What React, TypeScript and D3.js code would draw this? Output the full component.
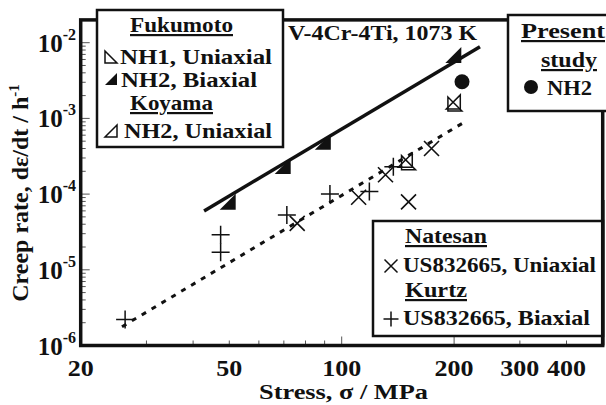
import React from "react";
import * as d3 from "d3";

// Fukumoto NH1 uniaxial (open triangle, right angle bottom-left)
const fukumotoNH1 = [
  { stress: 151, rate: 2.6e-4 },
  { stress: 201, rate: 1.55e-3 },
];
// Fukumoto NH2 biaxial (filled triangle)
const fukumotoNH2 = [
  { stress: 49.5, rate: 7.9e-5 },
  { stress: 69.5, rate: 2.35e-4 },
  { stress: 89, rate: 4.9e-4 },
  { stress: 199, rate: 6.9e-3 },
];
// Koyama NH2 uniaxial (open triangle, right angle bottom-right)
const koyamaNH2 = [
  { stress: 148, rate: 2.8e-4 },
  { stress: 199, rate: 1.65e-3 },
];
// Present study NH2
const presentNH2 = [{ stress: 210, rate: 3.05e-3 }];
// Natesan US832665 uniaxial
const natesan = [
  { stress: 76, rate: 4.1e-5 },
  { stress: 111, rate: 9.1e-5 },
  { stress: 131, rate: 1.8e-4 },
  { stress: 151, rate: 7.9e-5 },
  { stress: 174, rate: 4.0e-4 },
];
// Kurtz US832665 biaxial
const kurtz = [
  { stress: 26.3, rate: 2.2e-6 },
  { stress: 47.4, rate: 2.9e-5 },
  { stress: 47.4, rate: 1.7e-5 },
  { stress: 71.3, rate: 5.3e-5 },
  { stress: 93, rate: 1.0e-4 },
  { stress: 118.6, rate: 1.08e-4 },
  { stress: 137.5, rate: 2.3e-4 },
];
// fitted lines
const biaxialFit = [
  { stress: 42.8, rate: 6.0e-5 },
  { stress: 234.6, rate: 8.86e-3 },
];
const uniaxialFit = [
  { stress: 25.8, rate: 1.77e-6 },
  { stress: 214, rate: 9.04e-4 },
];

const xMajor = [20, 50, 100, 200, 300, 400];
const xMinor = [30, 40, 50, 60, 70, 80, 90, 300, 400];
const yMajor = [1e-6, 1e-5, 1e-4, 1e-3, 1e-2];

const font = "'Liberation Serif', 'Times New Roman', serif";

export default function App() {
  const left = 80.7,
    right = 602.7,
    top = 19.9,
    bottom = 345.5;

  const x = d3.scaleLog().domain([20, 500]).range([left, right]);
  const y = d3.scaleLog().domain([1e-6, 0.02]).range([bottom, top]);

  const line = d3
    .line<{ stress: number; rate: number }>()
    .x((d) => x(d.stress))
    .y((d) => y(d.rate));

  // minor ticks on the y axis (2..9 of every decade)
  const yMinor: number[] = [];
  yMajor.forEach((m) => {
    for (let k = 2; k <= 9; k++) if (m * k < 0.02) yMinor.push(m * k);
  });

  const triBL = (cx: number, cy: number, s: number) =>
    `M${cx - s},${cy - s}L${cx - s},${cy + s}L${cx + s},${cy + s}Z`;
  const triBR = (cx: number, cy: number, s: number) =>
    `M${cx + s},${cy - s}L${cx + s},${cy + s}L${cx - s},${cy + s}Z`;
  const cross = (cx: number, cy: number, s: number) =>
    `M${cx - s},${cy - s}L${cx + s},${cy + s}M${cx - s},${cy + s}L${cx + s},${cy - s}`;
  const plus = (cx: number, cy: number, s: number) =>
    `M${cx - s},${cy}L${cx + s},${cy}M${cx},${cy - s}L${cx},${cy + s}`;

  const underline = { textDecoration: "underline" };
  const fit = (w: number) => ({ textLength: w, lengthAdjust: "spacingAndGlyphs" });

  return (
    <svg
      width={606}
      height={405}
      style={{ position: "absolute", left: 0, top: 0, background: "#fff" }}
      fontFamily={font}
      fontWeight="bold"
      fontSize={22}
      fill="#111"
    >
      {/* minor/major ticks */}
      {yMinor.map((v, i) => (
        <line key={"ym" + i} x1={left} x2={left + 5} y1={y(v)} y2={y(v)} stroke="#555" strokeWidth={1} />
      ))}
      {yMajor.map((v, i) => (
        <line key={"yM" + i} x1={left} x2={left + 9} y1={y(v)} y2={y(v)} stroke="#555" strokeWidth={1} />
      ))}
      {xMinor.map((v, i) => (
        <line key={"xm" + i} x1={x(v)} x2={x(v)} y1={bottom} y2={bottom - 5} stroke="#555" strokeWidth={1} />
      ))}
      {[100, 200].map((v, i) => (
        <line key={"xM" + i} x1={x(v)} x2={x(v)} y1={bottom} y2={bottom - 9} stroke="#555" strokeWidth={1} />
      ))}

      {/* frame */}
      <rect x={left} y={top} width={right - left} height={bottom - top} fill="none" stroke="#111" strokeWidth={3.5} />

      {/* fit lines */}
      <path d={line(biaxialFit) || ""} fill="none" stroke="#111" strokeWidth={3.5} />
      <path
        d={line(uniaxialFit) || ""}
        fill="none"
        stroke="#111"
        strokeWidth={3}
        strokeDasharray="5 6.5"
      />

      {/* data */}
      {natesan.map((d, i) => (
        <path key={"n" + i} d={cross(x(d.stress), y(d.rate), 7.5)} stroke="#111" strokeWidth={1.6} fill="none" />
      ))}
      {kurtz.map((d, i) => (
        <path key={"k" + i} d={plus(x(d.stress), y(d.rate), 9)} stroke="#111" strokeWidth={1.5} fill="none" />
      ))}
      {fukumotoNH1.map((d, i) => (
        <path key={"f1" + i} d={triBL(x(d.stress), y(d.rate), 7)} stroke="#111" strokeWidth={1.5} fill="none" />
      ))}
      {koyamaNH2.map((d, i) => (
        <path key={"ko" + i} d={triBR(x(d.stress), y(d.rate), 7)} stroke="#111" strokeWidth={1.5} fill="none" />
      ))}
      {fukumotoNH2.map((d, i) => (
        <path key={"f2" + i} d={triBR(x(d.stress), y(d.rate), 8)} fill="#111" />
      ))}
      {presentNH2.map((d, i) => (
        <circle key={"p" + i} cx={x(d.stress)} cy={y(d.rate)} r={7.5} fill="#111" />
      ))}

      {/* alloy / temperature */}
      <text x={288} y={40} {...fit(189)}>V-4Cr-4Ti, 1073 K</text>

      {/* legend: Fukumoto / Koyama */}
      <rect x={97} y={10} width={186} height={137} fill="#fff" stroke="#111" strokeWidth={2.5} />
      <text x={130} y={32} style={underline} {...fit(103)}>Fukumoto</text>
      <path d={triBL(111, 57, 6)} fill="none" stroke="#111" strokeWidth={1.5} />
      <text x={120} y={64} {...fit(152)}>NH1, Uniaxial</text>
      <path d={triBR(111, 79, 6)} fill="#111" />
      <text x={121} y={87} {...fit(136)}>NH2, Biaxial</text>
      <text x={130} y={110} style={underline} {...fit(83)}>Koyama</text>
      <path d={triBR(111, 131, 6)} fill="none" stroke="#111" strokeWidth={1.5} />
      <text x={124} y={138} {...fit(148)}>NH2, Uniaxial</text>

      {/* legend: present study */}
      <rect x={508} y={15} width={120} height={96} fill="#fff" stroke="#111" strokeWidth={2.5} />
      <text x={521} y={38} style={underline} {...fit(84)}>Present</text>
      <text x={541} y={67} style={underline} {...fit(56)}>study</text>
      <circle cx={531} cy={87} r={7} fill="#111" />
      <text x={547} y={95} {...fit(45)}>NH2</text>

      {/* legend: Natesan / Kurtz */}
      <rect x={373} y={221} width={230} height={115} fill="#fff" stroke="#111" strokeWidth={2.5} />
      <text x={405} y={243} style={underline} {...fit(82)}>Natesan</text>
      <path d={cross(391, 266, 6.5)} stroke="#111" strokeWidth={1.5} fill="none" />
      <text x={403} y={272} {...fit(193)}>US832665, Uniaxial</text>
      <text x={405} y={297} style={underline} {...fit(62)}>Kurtz</text>
      <path d={plus(391, 319, 7.5)} stroke="#111" strokeWidth={1.5} fill="none" />
      <text x={403} y={325} {...fit(187)}>US832665, Biaxial</text>
      <line x1={right} x2={right} y1={200} y2={bottom} stroke="#111" strokeWidth={3.5} />

      {/* y tick labels */}
      {yMajor.map((v, i) => (
        <text key={"yl" + i} x={76} y={y(v) + 9} textAnchor="end" fontSize={25}>
          10
          <tspan dy={-12} fontSize={16}>{"-" + Math.round(-Math.log10(v))}</tspan>
        </text>
      ))}
      {/* x tick labels */}
      {xMajor.map((v, i) => (
        <text key={"xl" + i} x={x(v)} y={376} textAnchor="middle" fontSize={23} {...fit(String(v).length * 13)}>
          {v}
        </text>
      ))}

      {/* axis titles */}
      <text x={259} y={399} fontSize={21} {...fit(169)}>
        Stress, σ / MPa
      </text>
      <text transform="translate(28,193) rotate(-90)" textAnchor="middle" fontSize={24}>
        Creep rate, dε/dt / h
        <tspan dy={-9} fontSize={15}>-1</tspan>
      </text>
    </svg>
  );
}
